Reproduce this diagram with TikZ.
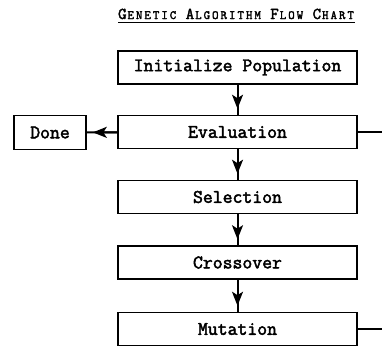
\documentclass[tikz,border=0pt]{standalone}
\usepackage{fontspec}
\setmonofont{Latin Modern Mono}[AutoFakeBold=2.4]
\usetikzlibrary{arrows.meta}
\newcommand{\tcbig}[1]{\makebox[8.46pt]{\fontsize{16.5}{18}\selectfont #1}}
\newcommand{\tcsm}[1]{\makebox[8.46pt]{\fontsize{12.5}{14}\selectfont #1}}
\begin{document}
\begin{tikzpicture}[x=1pt,y=-1pt,
  stepbox/.style={draw=black,line width=1.6pt,minimum width=239pt,minimum height=33pt,inner sep=0pt,
    font=\fontsize{19.2}{21}\selectfont\ttfamily\bfseries},
  donebox/.style={stepbox,minimum width=72pt,minimum height=34pt},
  link/.style={line width=2pt},
  flow/.style={line width=2pt,shorten >=6pt,-{Stealth[length=14pt,width=11pt,inset=3.5pt]}},
  loopline/.style={line width=2pt}]
\useasboundingbox (0,0) rectangle (382,348);
\fill[white] (0,0) rectangle (382,348);
\node[inner sep=0pt,anchor=base,font=\ttfamily\bfseries] (title) at (236.5,19) {\tcbig{G}\tcsm{E}\tcsm{N}\tcsm{E}\tcsm{T}\tcsm{I}\tcsm{C}\tcbig{ }\tcbig{A}\tcsm{L}\tcsm{G}\tcsm{O}\tcsm{R}\tcsm{I}\tcsm{T}\tcsm{H}\tcsm{M}\tcbig{ }\tcbig{F}\tcsm{L}\tcsm{O}\tcsm{W}\tcbig{ }\tcbig{C}\tcsm{H}\tcsm{A}\tcsm{R}\tcsm{T}};
\draw[line width=1.5pt] (118,22.5) coordinate (ul1) -- (355,22.5) coordinate (ul2);
\node[stepbox] (init) at (237.5,67.5) {Initialize Population};
\node[stepbox] (eval) at (237.5,132) {Evaluation};
\node[donebox] (done) at (50,132.5) {Done};
\node[stepbox] (sel) at (237.5,197) {Selection};
\node[stepbox] (cross) at (237.5,262.5) {Crossover};
\node[stepbox] (mut) at (237.5,329) {Mutation};
\coordinate (er) at (382,131.5);
\coordinate (mr) at (382,329);
\foreach \a/\b in {init/eval,eval/sel,sel/cross,cross/mut,eval/done}{
  \draw[link] (\a) -- (\b);
  \draw[flow] (\a) -- (\b);
}
\draw[loopline] (eval.east |- er) -- (er);
\draw[loopline] (mut.east) -- (mr);
\end{tikzpicture}
\end{document}
